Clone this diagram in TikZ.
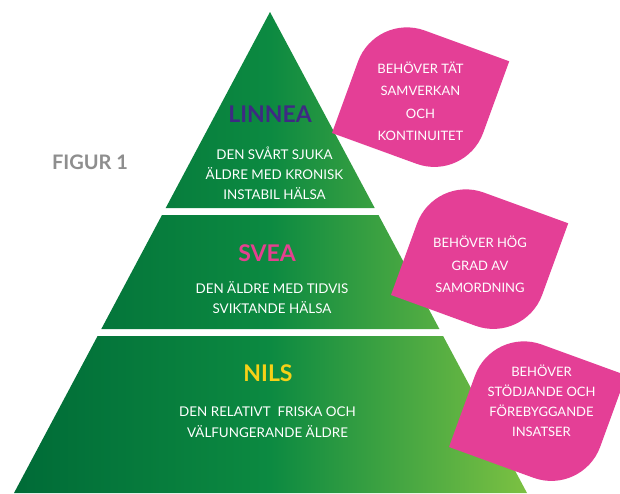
\documentclass[tikz,border=0pt]{standalone}
\usepackage{fontspec}
\setmainfont{Lato}

\definecolor{pyrdark}{HTML}{006B37}
\definecolor{pyrmid}{HTML}{0C8A41}
\definecolor{pyrlight}{HTML}{7CC142}
\definecolor{leafpink}{HTML}{E43F96}
\definecolor{linneapurple}{HTML}{3E2A83}
\definecolor{sveapink}{HTML}{E5408F}
\definecolor{nilsyellow}{HTML}{F7D117}
\definecolor{figgray}{HTML}{8E8E8E}

\pgfdeclarehorizontalshading{pyramidgreen}{100bp}{color(0bp)=(pyrdark); color(25bp)=(pyrdark);
  color(50bp)=(pyrmid); color(75bp)=(pyrlight); color(100bp)=(pyrlight)}

\begin{document}
\begin{tikzpicture}[x=1pt, y=-1pt,
    leaf/.style={fill=leafpink},
    needtext/.style={text=white, align=center, font=\fontsize{13}{22.4}\selectfont},
    tiertext/.style={text=white, align=center, font=\fontsize{13.4}{20}\selectfont},
    tiername/.style={font=\fontsize{23}{25}\selectfont\bfseries}]
    % Canvas 620 x 493, y runs downwards
    \clip (0,0) rectangle (620,493);
    \fill[white] (0,0) rectangle (620,493);

    % Pyramid: three tiers sharing one gradient
    \shade[shading=pyramidgreen]
        (270,12) -- (374.7,208) -- (165.7,208) -- cycle
        (162,215) -- (378.5,215) -- (439.4,329) -- (101.3,329) -- cycle
        (97.6,336) -- (443.1,336) -- (527,493) -- (14,493) -- cycle;

    % Leaves (sharp bottom-left and top-right corners)
    \foreach \bx/\by in {332/133, 391/295, 449/447}
        \fill[leaf, shift={(\bx,\by)}, rotate=-20]
            (0,0) -- (0,-76) .. controls (0,-104.7) and (23.3,-128) .. (52,-128)
            -- (142,-128) -- (142,-52) .. controls (142,-23.3) and (118.7,0) .. (90,0) -- cycle;

    % Tier names and descriptions
    \node[tiername, text=linneapurple] (linnea) at (270,114.5) {LINNEA};
    \node[tiertext] (linnea-text) at (274.5,173.5) {DEN SVÅRT SJUKA\\ÄLDRE MED KRONISK\\INSTABIL HÄLSA};
    \node[tiername, text=sveapink] (svea) at (267,253.3) {SVEA};
    \node[tiertext] (svea-text) at (272,297.3) {DEN ÄLDRE MED TIDVIS\\SVIKTANDE HÄLSA};
    \node[tiername, text=nilsyellow] (nils) at (268,373) {NILS};
    \node[tiertext, font=\fontsize{13.4}{21.3}\selectfont] (nils-text) at (267.5,422.3)
        {DEN RELATIVT~ FRISKA OCH\\VÄLFUNGERANDE ÄLDRE};

    % Needs in the leaves
    \node[needtext] (linnea-need) at (420.5,101.4) {BEHÖVER TÄT\\SAMVERKAN\\OCH\\KONTINUITET};
    \node[needtext] (svea-need) at (480,264.5) {BEHÖVER HÖG\\GRAD AV\\SAMORDNING};
    \node[needtext, font=\fontsize{13}{20}\selectfont] (nils-need) at (541.5,401)
        {BEHÖVER\\STÖDJANDE OCH\\FÖREBYGGANDE\\INSATSER};

    % Figure label
    \node[font=\fontsize{20}{22}\selectfont\bfseries, text=figgray] (figur) at (90,162) {FIGUR 1};
\end{tikzpicture}
\end{document}
